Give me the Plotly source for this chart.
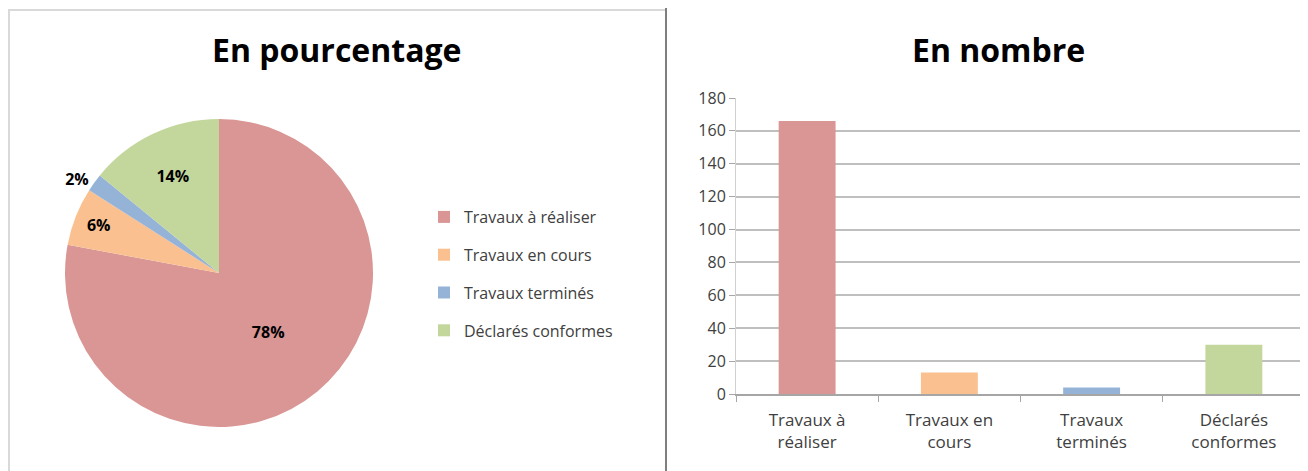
import plotly.graph_objects as go

categories = ["Travaux à réaliser", "Travaux en cours", "Travaux terminés", "Déclarés conformes"]
tick_labels = ["Travaux à<br>réaliser", "Travaux en<br>cours", "Travaux<br>terminés", "Déclarés<br>conformes"]
counts = [166, 13, 4, 30]
colors = ["#d99694", "#fac090", "#95b3d7", "#c3d69b"]
pie_text_pos = ["inside", "inside", "outside", "inside"]
y_ticks = [0, 20, 40, 60, 80, 100, 120, 140, 160, 180]

FONT = "Open Sans"

# page body has an 8px default margin: size the figure to fit the 1308x471 window
OFF = 8
W, H = 1308 - OFF, 471 - OFF
def px(x): return (x - OFF) / W
def py(y): return 1 - (y - OFF) / H

fig = go.Figure()

fig.add_trace(go.Pie(
    labels=categories, values=counts, sort=False, direction="clockwise", rotation=0,
    marker=dict(colors=colors, line=dict(width=0)),
    texttemplate="%{percent:.0%}", textposition=pie_text_pos,
    textfont=dict(family=FONT, size=16, color="black", weight="bold"),
    insidetextorientation="horizontal",
    domain=dict(x=[px(61), px(377)], y=[py(427), py(119)]),
    showlegend=False, hoverinfo="label+value+percent",
))

for cat, tl, v, c in zip(categories, tick_labels, counts, colors):
    fig.add_trace(go.Bar(
        x=[tl], y=[v], name=cat, marker=dict(color=c, line=dict(width=0)),
        width=0.4, legendgroup=cat, showlegend=True, offset=-0.2,
    ))

fig.update_layout(
    width=W, height=H, margin=dict(l=0, r=0, t=0, b=0, autoexpand=False),
    paper_bgcolor="white", plot_bgcolor="white",
    barmode="overlay",
    font=dict(family=FONT, color="#404040"),
    legend=dict(x=px(424), y=py(200), xanchor="left", yanchor="top",
                font=dict(size=16, color="#404040", family=FONT),
                tracegroupgap=14, itemwidth=30, bgcolor="rgba(0,0,0,0)"),
    xaxis=dict(domain=[px(736), px(1305)], categoryorder="array", categoryarray=tick_labels,
               automargin=False,
               showline=True, linecolor="#a6a6a6", linewidth=1.5,
               ticks="outside", tickson="boundaries", ticklen=6, tickcolor="#a6a6a6",
               ticklabelstandoff=10,
               tickfont=dict(size=17, color="#404040"), showgrid=False, fixedrange=True),
    yaxis=dict(domain=[py(394), py(98)], range=[0, 180], tickvals=y_ticks,
               automargin=False,
               showline=True, linecolor="#d0d0d0", linewidth=1,
               ticks="outside", ticklen=6, tickcolor="#a6a6a6",
               gridcolor="#bfbfbf", gridwidth=2, zeroline=False,
               tickfont=dict(size=16, color="#404040"), fixedrange=True),
    annotations=[
        dict(text="<b>En pourcentage</b>", x=px(336), y=py(50), xref="paper", yref="paper",
             xanchor="center", yanchor="middle",
             showarrow=False, font=dict(size=32, color="black", family=FONT)),
        dict(text="<b>En nombre</b>", x=px(998), y=py(50), xref="paper", yref="paper",
             xanchor="center", yanchor="middle",
             showarrow=False, font=dict(size=32, color="black", family=FONT)),
    ],
    shapes=[
        dict(type="line", xref="paper", yref="paper", x0=px(9), x1=px(9), y0=0, y1=py(10),
             line=dict(color="#d9d9d9", width=2)),
        dict(type="line", xref="paper", yref="paper", x0=px(8), x1=px(666), y0=py(10), y1=py(10),
             line=dict(color="#d9d9d9", width=2)),
        dict(type="line", xref="paper", yref="paper", x0=px(666), x1=px(666), y0=0, y1=1,
             line=dict(color="#7f7f7f", width=2)),
    ],
)

fig.write_html("out.html")
